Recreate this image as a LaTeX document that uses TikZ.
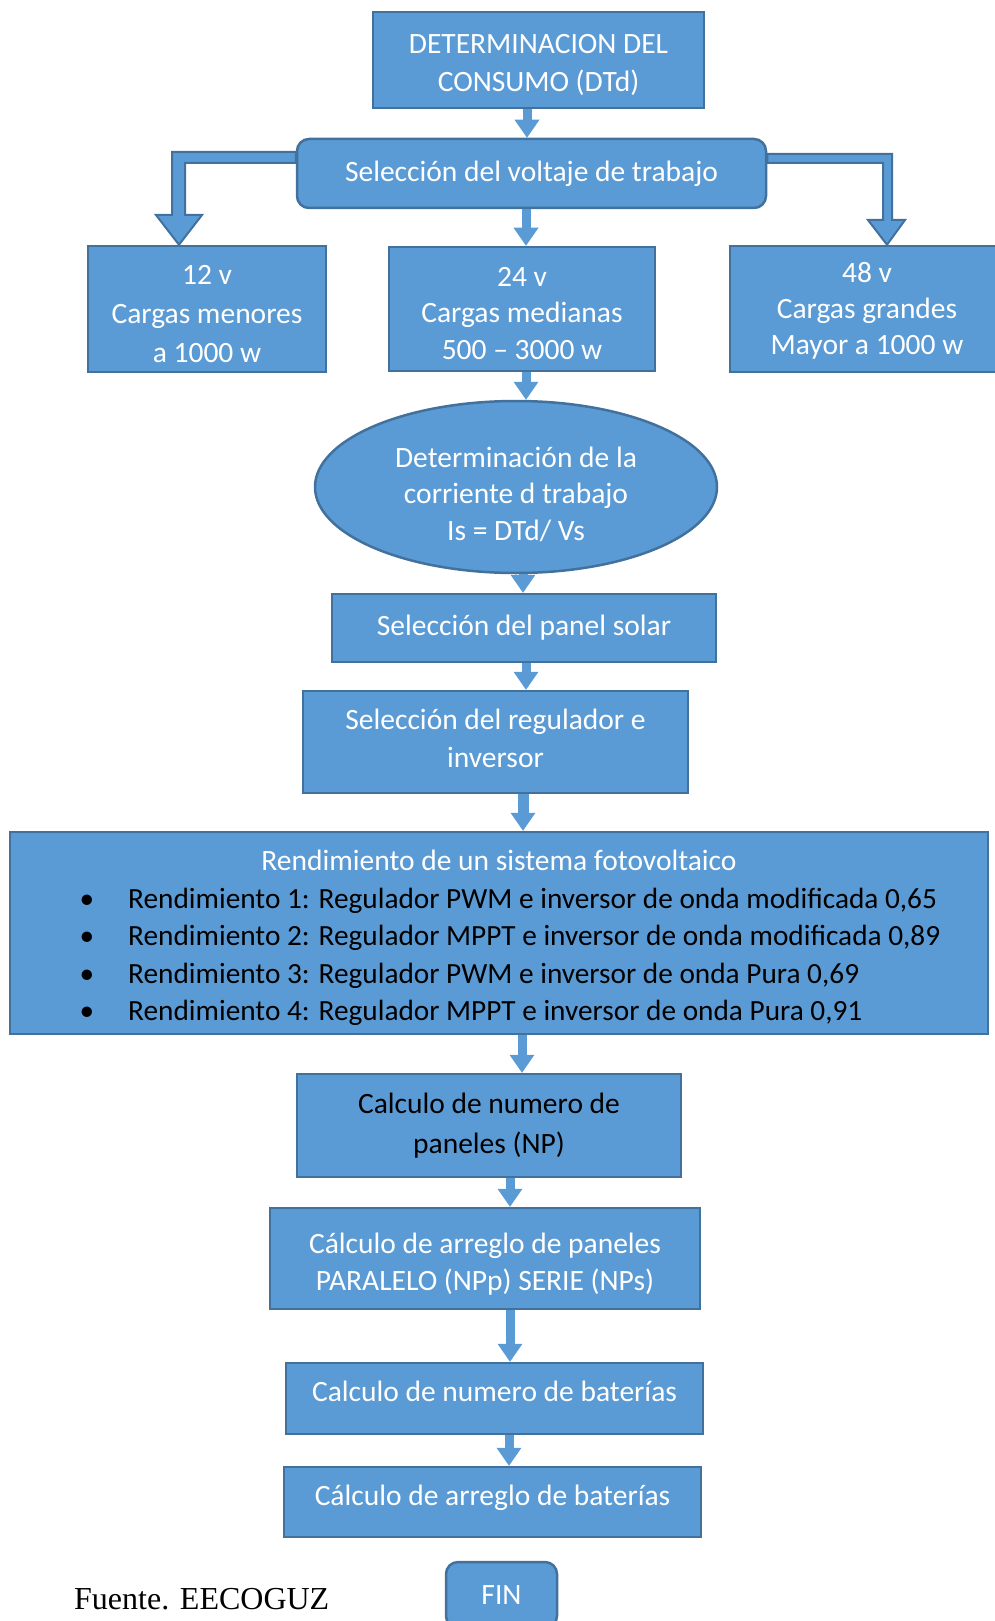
\documentclass[tikz,border=0pt]{standalone}
\usepackage{fontspec}
\setmainfont{Carlito}
\newfontfamily\fuentefont{Liberation Serif}
\usetikzlibrary{positioning, arrows.meta, calc, shapes.geometric}
\definecolor{boxblue}{HTML}{5B9BD5}
\definecolor{edgeblue}{HTML}{41719C}
\tikzset{
  box/.style={
    draw=edgeblue, line width=2.5pt, fill=boxblue,
    text=white, inner sep=0pt,
    font=\fontsize{29.5}{38.5}\selectfont,
    align=center
  },
  roundbox/.style={box, rounded corners=12pt},
  ovalbox/.style={box, ellipse},
  flow/.style={draw=boxblue, line width=9pt, -{Triangle[width=25pt, length=18pt, line width=0pt]}},
  bentarrow/.style={draw=edgeblue, line width=2pt, fill=boxblue, line join=miter}
}
% sube la primera linea de un texto de varias lineas
\newcommand{\lift}[1]{\rule{0pt}{#1pt}}

\begin{document}
\begin{tikzpicture}[
  x=1pt, y=-1pt,
  lbl/.style={font=\fontsize{29.3}{37}\selectfont, text=black, inner sep=0pt},
  lblwhite/.style={lbl, font=\fontsize{29.5}{37}\selectfont, text=white},
]
\clip (0,0) rectangle (995,1621);

% cabecera y seleccion de voltaje
\node[box, minimum width=331, minimum height=96] (dtd) at (538.5, 60) {\lift{29}DETERMINACION DEL\\CONSUMO (DTd)};
\node[roundbox, minimum width=469, minimum height=69] (sel) at (531.5, 173.5) {Selección del voltaje de trabajo};

% tres voltajes
\node[box, font=\fontsize{29.5}{38.8}\selectfont, minimum width=238, minimum height=126] (v12) at (207, 309) {\lift{29}12 v\\Cargas menores\\a 1000 w};
\node[box, font=\fontsize{29.5}{36.2}\selectfont, minimum width=266, minimum height=124] (v24) at (522, 309) {\lift{28}24 v\\Cargas medianas\\500 – 3000 w};
\node[box, font=\fontsize{29.5}{36.2}\selectfont, minimum width=274, minimum height=126] (v48) at (867, 309) {\lift{24}48 v\\Cargas grandes\\Mayor a 1000 w};

% corriente de trabajo
\node[ovalbox, font=\fontsize{29.5}{36.5}\selectfont, minimum width=402, minimum height=172] (corr) at (516, 487) {\lift{35}Determinación de la\\corriente d trabajo\\Is = DTd/ Vs};

\node[box, minimum width=384, minimum height=68] (panel) at (524, 628) {Selección del panel solar};
\node[box, text depth=7pt, minimum width=385, minimum height=102] (reg) at (495.5, 742) {Selección del regulador e\\inversor};

% rendimientos
\node[box, minimum width=978, minimum height=202] (rend) at (499, 933) {};
\node[lblwhite, anchor=base] (rendtit) at (499, 870) {Rendimiento de un sistema fotovoltaico};
\node[lbl, anchor=base west] (rend1) at (128, 908) {\llap{\textbullet\hspace{34pt}}Rendimiento 1: Regulador PWM e inversor de onda modificada 0,65};
\node[lbl, anchor=base west] (rend2) at (128, 945.5) {\llap{\textbullet\hspace{34pt}}Rendimiento 2: Regulador MPPT e inversor de onda modificada 0,89};
\node[lbl, anchor=base west] (rend3) at (128, 983) {\llap{\textbullet\hspace{34pt}}Rendimiento 3: Regulador PWM e inversor de onda Pura 0,69};
\node[lbl, anchor=base west] (rend4) at (128, 1020) {\llap{\textbullet\hspace{34pt}}Rendimiento 4: Regulador MPPT e inversor de onda Pura 0,91};

% paneles y baterias
\node[box, text=black, font=\fontsize{29.5}{39.3}\selectfont, minimum width=384, minimum height=103] (np) at (489, 1125.5) {Calculo de numero de\\paneles (NP)};
\node[box, font=\fontsize{29.5}{36.5}\selectfont, minimum width=430, minimum height=101] (arrpan) at (485, 1258.5) {\lift{32}Cálculo de arreglo de paneles\\PARALELO (NPp) SERIE (NPs)};
\node[box, text depth=14pt, minimum width=417, minimum height=71] (nbat) at (494.5, 1398.5) {Calculo de numero de baterías};
\node[box, text depth=13pt, minimum width=417, minimum height=70] (arrbat) at (492.5, 1502) {Cálculo de arreglo de baterías};
\node[roundbox, minimum width=111, minimum height=66] (fin) at (501.5, 1595) {FIN};

\node[anchor=base west, inner sep=0pt, font=\fuentefont\fontsize{32}{36}\selectfont] (fuente) at (74, 1609) {Fuente. EECOGUZ};

% flechas rectas
\draw[flow] (dtd.south -| 527,0) -- (sel.north -| 527,0);
\draw[flow] (sel.south -| 526,0) -- (v24.north -| 526,0);
\draw[flow] (v24.south -| 526,0) -- (corr.north -| 526,0);
\draw[flow] (corr.south -| 523,0) -- (panel.north -| 523,0);
\draw[flow] (panel.south -| 526,0) -- (reg.north -| 526,0);
\draw[flow, line width=11pt] (reg.south -| 523,0) -- (rend.north -| 523,0);
\draw[flow] (rend.south -| 522,0) -- (np.north -| 522,0);
\draw[flow] (np.south -| 510,0) -- (arrpan.north -| 510,0);
\draw[flow] (arrpan.south -| 510,0) -- (nbat.north -| 510,0);
\draw[flow] (nbat.south -| 509,0) -- (arrbat.north -| 509,0);

% flechas dobladas hacia 12 v y 48 v
\filldraw[bentarrow] (sel.west |- 0,152) -| (172,215) -- (156,215) -- (v12.north -| 179,0)
  -- (202,215) -- (185,215) |- (sel.west |- 0,163) -- cycle;
\filldraw[bentarrow] (sel.east |- 0,154) -| (892,220) -- (905,220) -- (v48.north -| 887,0)
  -- (868,220) -- (883,220) |- (sel.east |- 0,163) -- cycle;

\end{tikzpicture}
\end{document}
